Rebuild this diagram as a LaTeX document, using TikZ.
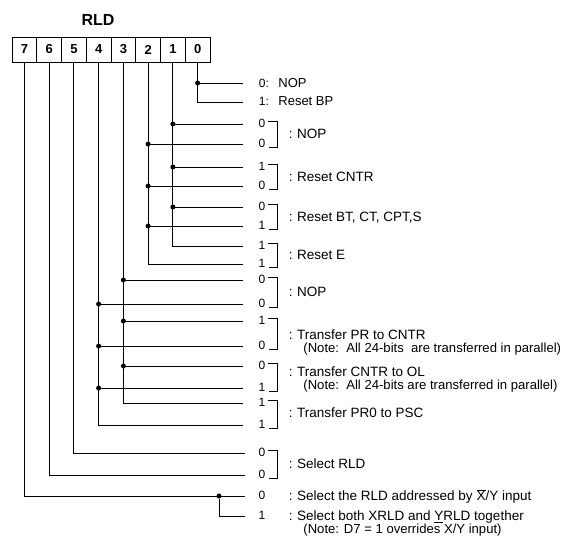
\documentclass[tikz,border=0pt]{standalone}
\usepackage{fontspec}
\setmainfont{Liberation Sans}
\newcommand\ovlX{\ensuremath{\overline{\mbox{X}}}}
\begin{document}
\begin{tikzpicture}[x=1pt,y=-1pt,line width=0.8pt,
  cell/.style={draw,minimum width=24.75pt,minimum height=25pt,inner sep=0pt,font=\fontsize{13}{13}\selectfont\bfseries},
  dig/.style={inner sep=0pt,font=\fontsize{12}{12}\selectfont},
  bigdig/.style={inner sep=0pt,font=\fontsize{12}{12}\selectfont},
  lab/.style={inner sep=0pt,anchor=base west,font=\fontsize{13.5}{14}\selectfont},
  note/.style={inner sep=0pt,anchor=base west,font=\fontsize{13.1}{14}\selectfont},
  dotnode/.style={circle,fill,inner sep=0pt,minimum size=5pt}]
\useasboundingbox (0,0) rectangle (565,542);
\newcommand\tap[3]{\draw (c#1 |- #2) -- (#2); \node[dotnode] (#3) at (c#1 |- #2) {};}
\newcommand\pair[7]{%
  \node[dig] (#1u) at (262,#2-0.5) {#4};
  \node[dig] (#1l) at (262,#3-0.5) {#5};
  \draw[line width=0.7pt] (268,#2-2.5) -- (277,#2-2.5) -- (277,#3+3) -- (268.5,#3+3);
  \node[lab] (#1t) at (288.5,#7+4.8) {:\hspace{4.5pt}#6};}
% title and register
\node[font=\fontsize{16}{16}\selectfont\bfseries] (title) at (98,20) {RLD};
\foreach \i in {0,...,7}{\node[cell] (c\i) at ({12+24.75*(7-\i)+12.375},49.5) {\i};}
% line ends
\coordinate (r0a) at (243,83);  \coordinate (r0b) at (243,102);
\coordinate (r1a) at (243,124); \coordinate (r1b) at (243,144);
\coordinate (r2a) at (243,167); \coordinate (r2b) at (243,186);
\coordinate (r3a) at (243,207); \coordinate (r3b) at (243,226);
\coordinate (r4a) at (243,246); \coordinate (r4b) at (243,264);
\coordinate (r5a) at (243,280); \coordinate (r5b) at (243,304);
\coordinate (r6a) at (243,321); \coordinate (r6b) at (243,346);
\coordinate (r7a) at (243,366); \coordinate (r7b) at (243,388);
\coordinate (r8a) at (243,403); \coordinate (r8b) at (243,425);
\coordinate (r9a) at (245,453); \coordinate (r9b) at (245,475);
\coordinate (r10a) at (245,496); \coordinate (r10b) at (245,516);
% bit 0
\draw (c0.south) |- (r0b);
\tap{0}{r0a}{d0a}
% bits 1 and 2
\draw (c1.south) |- (r4a);
\draw (c2.south) |- (r4b);
\tap{1}{r1a}{d1a} \tap{2}{r1b}{d1b}
\tap{1}{r2a}{d2a} \tap{2}{r2b}{d2b}
\tap{1}{r3a}{d3a} \tap{2}{r3b}{d3b}
% bits 3 and 4
\draw (c3.south) |- (r8a);
\draw (c4.south) |- (r8b);
\tap{3}{r5a}{d5a} \tap{4}{r5b}{d5b}
\tap{3}{r6a}{d6a} \tap{4}{r6b}{d6b}
\tap{3}{r7a}{d7a} \tap{4}{r7b}{d7b}
% bits 5 and 6
\draw (c5.south) |- (r9a);
\draw (c6.south) |- (r9b);
% bit 7
\draw (c7.south) |- (r10a);
\node[dotnode] (d10) at (219,496) {};
\draw (d10) |- (r10b);
% labels
\node[bigdig,anchor=base west] (l0a) at (258.5,87.5) {0:};
\node[lab,font=\fontsize{13}{13}\selectfont] (t0a) at (278,87.5) {NOP};
\node[bigdig,anchor=base west] (l0b) at (258.5,105.5) {1:};
\node[lab,font=\fontsize{13}{13}\selectfont] (t0b) at (278,105.5) {Reset BP};
\pair{g1}{124}{144}{0}{0}{NOP}{134}
\pair{g2}{167}{186}{1}{0}{Reset CNTR}{176.5}
\pair{g3}{207}{226}{0}{1}{Reset BT, CT, CPT,S}{216.5}
\pair{g4}{246}{264}{1}{1}{Reset E}{255}
\pair{g5}{280}{304}{0}{0}{NOP}{292}
\pair{g6}{321}{346}{1}{0}{Transfer PR to CNTR}{334.5}
\node[note] (n6) at (303,352) {(Note:\ \ All 24-bits\ \ are transferred in parallel)};
\pair{g7}{366}{388}{0}{1}{Transfer CNTR to OL}{372}
\node[note] (n7) at (303,389) {(Note:\ \ All 24-bits are transferred in parallel)};
\pair{g8}{403}{425}{1}{1}{Transfer PR0 to PSC}{413}
\pair{g9}{453}{475}{0}{0}{Select RLD}{463.5}
\node[bigdig] (l10a) at (262,495.5) {0};
\node[lab] (t10a) at (288.5,500.8) {:\hspace{4.5pt}Select the RLD addressed by \ovlX/Y input};
\node[bigdig] (l10b) at (262,515.5) {1};
\node[lab] (t10b) at (288.5,520.8) {:\hspace{4.5pt}Select both XRLD and \underline{Y}RLD together};
\node[note] (n10) at (303,533.5) {(Note: D7 = 1 overrides X/Y input)};
\end{tikzpicture}
\end{document}
